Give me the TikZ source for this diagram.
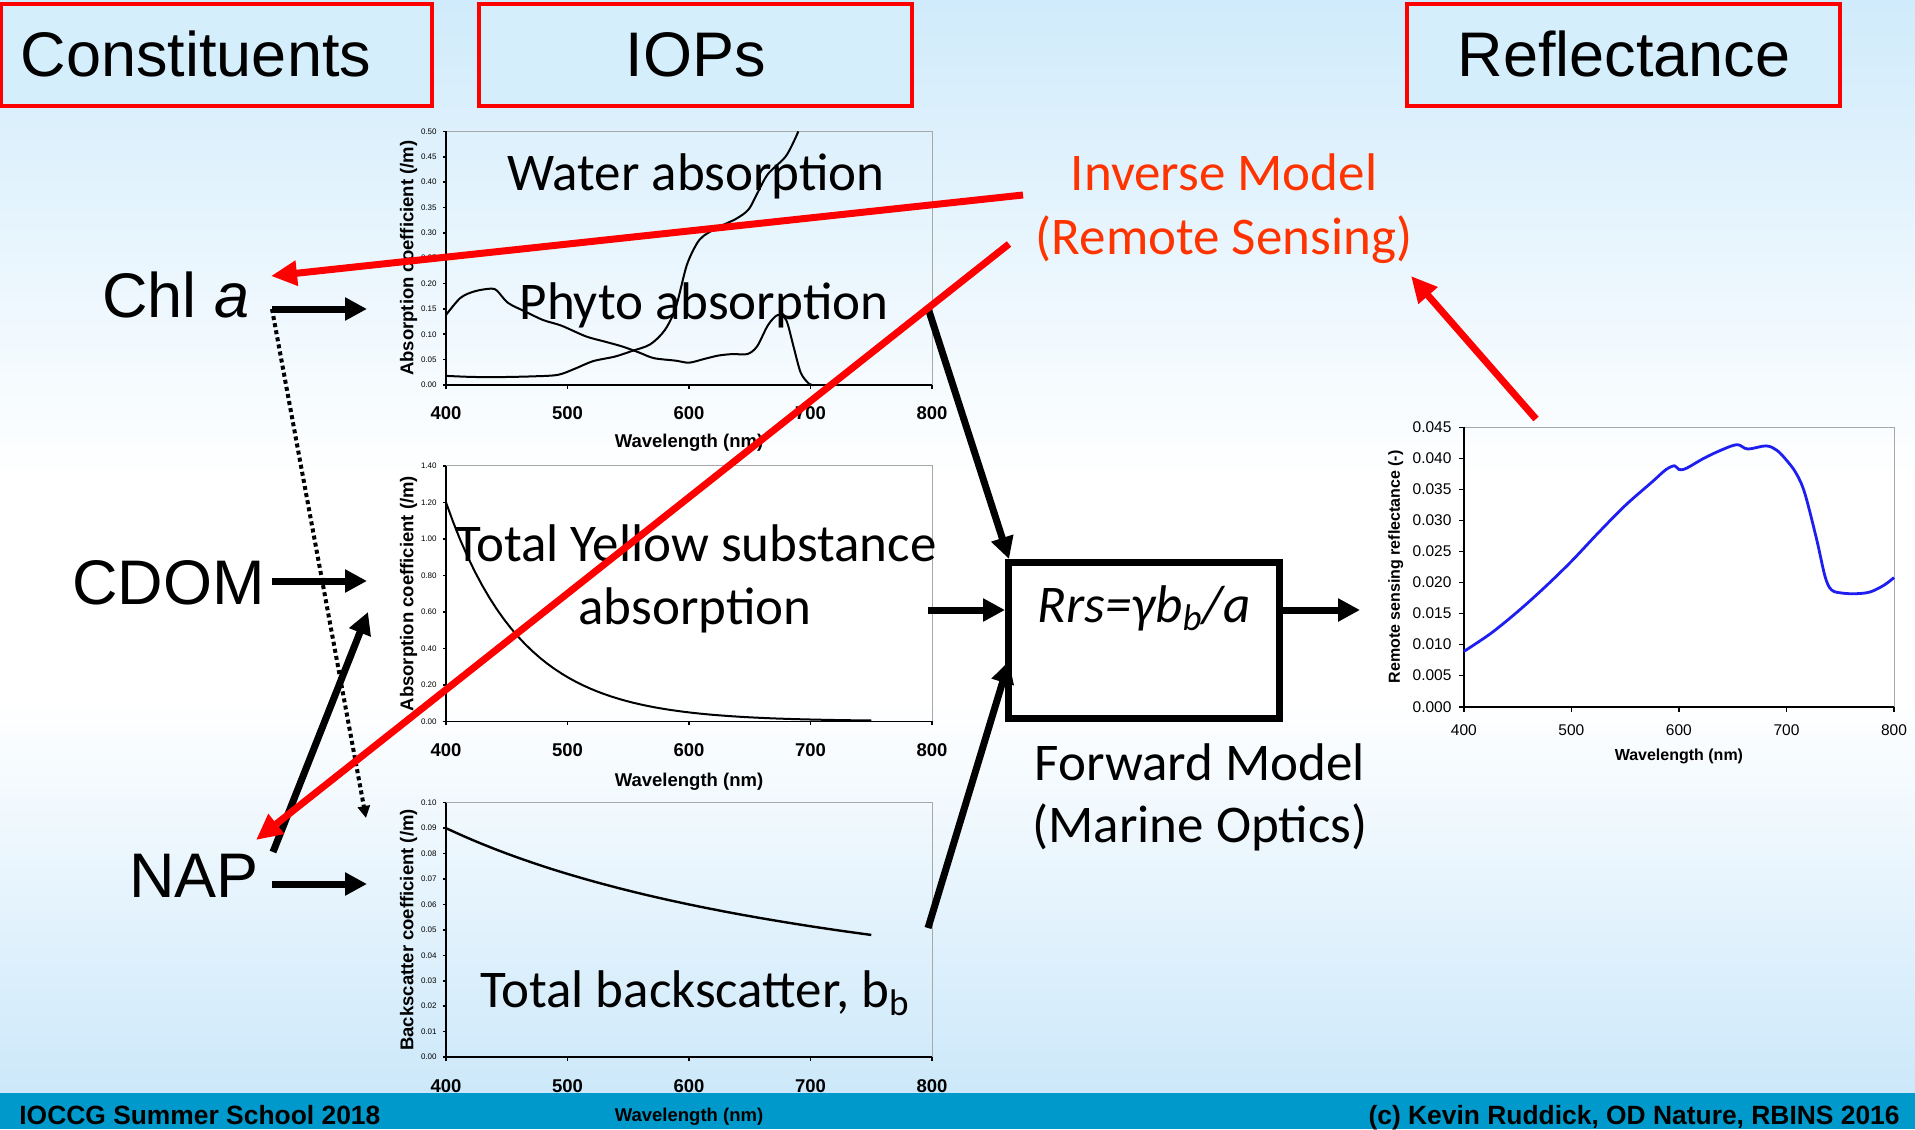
\documentclass[tikz,border=0pt]{standalone}
\usepackage{fontspec}
\setmainfont{Liberation Sans}
\newfontfamily\calibri{Carlito}
\usetikzlibrary{arrows.meta}

\definecolor{bgtop}{HTML}{D0EBFB}
\definecolor{bgbottom}{HTML}{CCE8FA}
\definecolor{hdrfill}{HTML}{D5EEFC}
\definecolor{barblue}{HTML}{0099CC}
\definecolor{labelred}{HTML}{FF3300}
\definecolor{curveblue}{HTML}{1E1EF0}
\definecolor{framegray}{HTML}{A8A8A8}

\tikzset{
  hdrbox/.style={draw=red, line width=1.75pt, fill=hdrfill},
  hdrtext/.style={font=\fontsize{31.5}{36}\selectfont, anchor=base, inner sep=0pt},
  constituent/.style={font=\fontsize{31.5}{36}\selectfont, anchor=base west, inner sep=0pt},
  iopname/.style={font=\calibri\fontsize{26.5}{30}\selectfont, anchor=base, inner sep=0pt},
  redname/.style={iopname, text=labelred},
  flow/.style={line width=3.5pt, -{Triangle[length=11pt,width=11pt]}},
  invflow/.style={draw=red, line width=3.5pt, -{Triangle[length=13pt,width=12pt]}},
  linkflow/.style={line width=2pt, dash pattern=on 2pt off 1.6pt, -{Triangle[length=6pt,width=6pt]}},
  axisline/.style={line width=0.8pt},
  frameline/.style={draw=framegray, line width=0.5pt},
  tinytick/.style={font=\fontsize{4}{5}\selectfont, anchor=east, inner sep=0pt},
  boldtick/.style={font=\bfseries\fontsize{9.25}{11}\selectfont, inner sep=0pt},
  curve/.style={line width=1pt, line join=round},
  rtick/.style={font=\fontsize{7.75}{9}\selectfont, inner sep=0pt},
  rlabel/.style={font=\bfseries\fontsize{8}{10}\selectfont, inner sep=0pt},
  bartext/.style={font=\bfseries\fontsize{13.2}{15}\selectfont, inner sep=0pt}
}

\begin{document}
\begin{tikzpicture}[x=0.5pt, y=-0.5pt]
\useasboundingbox (0,0) rectangle (1915,1129);
\clip (0,0) rectangle (1915,1129);

% background
\shade[top color=bgtop, bottom color=white] (0,0) rectangle (1915,480);
\fill[white] (0,479) rectangle (1915,700);
\shade[top color=white, bottom color=bgbottom] (0,699) rectangle (1915,1094);
\fill[barblue] (0,1093) rectangle (1915,1129);

% column headers
\draw[hdrbox] (1,4) rectangle (432,106);
\draw[hdrbox] (479,4) rectangle (912,106);
\draw[hdrbox] (1407,4) rectangle (1840,106);
\node[hdrtext] (hconst) at (196,77) {Constituents};
\node[hdrtext] (hiops) at (696,77) {IOPs};
\node[hdrtext] (hrefl) at (1624,77) {Reflectance};

% ---------- absorption chart: water and phytoplankton ----------
\begin{scope}[shift={(-20pt,-192.5pt)}, x=0.6075pt, y=253.6pt]
  \draw[frameline] (400,0.5) -- (800,0.5) -- (800,0);
  \foreach \v in {0.00,0.05,0.10,0.15,0.20,0.25,0.30,0.35,0.40,0.45,0.50}{
    \draw[axisline] (400,\v) -- ++(-1.6pt,0);
    \node[tinytick] at ([xshift=-4.5pt]400,\v) {\v};
  }
  \foreach \w in {400,500,600,700,800}{
    \draw[axisline] (\w,0) -- ++(0,-2pt);
    \node[boldtick] at ([yshift=-14pt]\w,0) {\w};
  }
  \draw[axisline] (400,0.5) -- (400,0) -- (800,0);
  \node[boldtick] at ([yshift=-29pt]600,0) {Wavelength (nm)};
  \node[boldtick, rotate=90] at ([xshift=-18.7pt]400,0.25) {Absorption coefficient (/m)};
  \draw[curve] plot[smooth, tension=0.5] coordinates {
    (400,0.018) (420,0.016) (441,0.0155) (471,0.017) (492,0.020) (506,0.032)
    (521,0.047) (539,0.056) (553,0.067) (568,0.080) (580,0.108) (589,0.152)
    (598,0.235) (606,0.277) (612,0.294) (624,0.311) (639,0.328) (649,0.346)
    (656,0.377) (665,0.416) (680,0.452) (690,0.50)};
  \draw[curve] plot[smooth, tension=0.5] coordinates {
    (400,0.138) (412,0.172) (424,0.185) (437,0.190) (442,0.186) (451,0.162)
    (465,0.145) (480,0.128) (495,0.117) (515,0.096) (530,0.086) (545,0.076)
    (559,0.064) (571,0.053) (589,0.048) (600,0.044) (612,0.051) (624,0.058)
    (636,0.061) (648,0.061) (656,0.076) (665,0.118) (673,0.138) (680,0.128)
    (686,0.076) (692,0.024) (699,0.002) (703,0)};
\end{scope}
\node[iopname] (water) at (696,190) {Water absorption};
\node[iopname] (phyto) at (704,319) {Phyto absorption};

% ---------- absorption chart: yellow substance ----------
\begin{scope}[shift={(-20pt,-360.65pt)}, x=0.6075pt, y=91.2pt]
  \draw[frameline] (400,1.4) -- (800,1.4) -- (800,0);
  \foreach \v in {0.00,0.20,0.40,0.60,0.80,1.00,1.20,1.40}{
    \draw[axisline] (400,\v) -- ++(-1.6pt,0);
    \node[tinytick] at ([xshift=-4.5pt]400,\v) {\v};
  }
  \foreach \w in {400,500,600,700,800}{
    \draw[axisline] (\w,0) -- ++(0,-2pt);
    \node[boldtick] at ([yshift=-14.5pt]\w,0) {\w};
  }
  \draw[axisline] (400,1.4) -- (400,0) -- (800,0);
  \node[boldtick] at ([yshift=-30pt]600,0) {Wavelength (nm)};
  \node[boldtick, rotate=90] at ([xshift=-18.7pt]400,0.7) {Absorption coefficient (/m)};
  \draw[curve] plot[domain=400:750, samples=60] (\x,{1.2*exp(-0.016*(\x-400))});
\end{scope}
\node[iopname] (cdomabs1) at (696,561) {Total Yellow substance};
\node[iopname] (cdomabs2) at (695,624) {absorption};

% ---------- backscatter chart ----------
\begin{scope}[shift={(-20pt,-528.5pt)}, x=0.6075pt, y=1271.5pt]
  \draw[frameline] (400,0.1) -- (800,0.1) -- (800,0);
  \foreach \v in {0.00,0.01,0.02,0.03,0.04,0.05,0.06,0.07,0.08,0.09,0.10}{
    \draw[axisline] (400,\v) -- ++(-1.6pt,0);
    \node[tinytick] at ([xshift=-4.5pt]400,\v) {\v};
  }
  \foreach \w in {400,500,600,700,800}{
    \draw[axisline] (\w,0) -- ++(0,-2pt);
    \node[boldtick] at ([yshift=-14.5pt]\w,0) {\w};
  }
  \draw[axisline] (400,0.1) -- (400,0) -- (800,0);
  \node[boldtick] at ([yshift=-30pt]600,0) {Wavelength (nm)};
  \node[boldtick, rotate=90] at ([xshift=-18.7pt]400,0.05) {Backscatter coefficient (/m)};
  \draw[curve, line width=1.2pt] plot[domain=400:750, samples=50] (\x,{36/\x});
\end{scope}
\node[iopname] (bback) at (695,1007) {Total backscatter, b\textsubscript{b}};

% ---------- reflectance chart ----------
\begin{scope}[shift={(516.8pt,-353.35pt)}, x=0.53775pt, y=3104.4pt]
  \draw[frameline] (400,0.045) -- (800,0.045) -- (800,0);
  \foreach \v in {0.000,0.005,0.010,0.015,0.020,0.025,0.030,0.035,0.040,0.045}{
    \draw[axisline] (400,\v) -- ++(-2.5pt,0);
    \node[rtick, anchor=east] at ([xshift=-6pt]400,\v) {\v};
  }
  \foreach \w in {400,500,600,700,800}{
    \draw[axisline] (\w,0) -- ++(0,-2.5pt);
    \node[rtick] at ([yshift=-11.5pt]\w,0) {\w};
  }
  \draw[axisline] (400,0.045) -- (400,0) -- (800,0);
  \node[rlabel] at ([yshift=-25pt]600,0) {Wavelength (nm)};
  \node[rlabel, rotate=90] at ([xshift=-34pt]400,0.0225) {Remote sensing reflectance (-)};
  \draw[curve, draw=curveblue, line width=1.4pt] plot[smooth, tension=0.55] coordinates {
    (400,0.0089) (425,0.0118) (450,0.0153) (475,0.0192) (500,0.0234)
    (525,0.0280) (550,0.0324) (575,0.0362) (588,0.0382)
    (596,0.0388) (600,0.0382) (607,0.0384) (623,0.0400) (639,0.0413)
    (654,0.0422) (664,0.0415) (681,0.0420)
    (691,0.0413) (700,0.0397) (709,0.0376) (717,0.0344) (728,0.0270)
    (736,0.0209) (742,0.0188) (752,0.0183) (765,0.0182) (778,0.0185)
    (791,0.0196) (800,0.0208)};
\end{scope}

% ---------- constituents ----------
\node[constituent] (chl) at (102,317) {Chl \textit{a}};
\node[constituent] (cdom) at (72,604) {CDOM};
\node[constituent] (nap) at (129,897) {NAP};

% ---------- forward model ----------
\node[draw, line width=3.5pt, minimum width=135.5pt, minimum height=78pt,
      inner sep=0pt] (model) at (1144,640.5) {};
\node[iopname] (eqn) at (1144,622) {\itshape Rrs=γb\textsubscript{b}/a};
\node[iopname] (fwd1) at (1200,780) {Forward Model};
\node[iopname] (fwd2) at (1200,842) {(Marine Optics)};

% ---------- inverse model ----------
\node[redname] (inv1) at (1224,190) {Inverse Model};
\node[redname] (inv2) at (1224,254) {(Remote Sensing)};

% connector end points
\coordinate (chlOut) at (272,309);
\coordinate (chlIn) at (367,309);
\coordinate (cdomOut) at (272,581);
\coordinate (cdomIn) at (367,581);
\coordinate (napOut) at (272,884);
\coordinate (napIn) at (367,884);
\coordinate (napUp) at (273,852);
\coordinate (cdomUp) at (368,612);
\coordinate (linkEnd) at (366,818);
\coordinate (absOut) at (928,308);
\coordinate (absIn) at (1009,559);
\coordinate (ysOut) at (928,610);
\coordinate (ysIn) at (1005,610);
\coordinate (bbOut) at (928,928);
\coordinate (bbIn) at (1009,661);
\coordinate (rrsOut) at (1283,610);
\coordinate (rrsIn) at (1360,610);
\coordinate (invStartA) at (1023,195);
\coordinate (chlTip) at (271,276);
\coordinate (invStartB) at (1009,244);
\coordinate (napTip) at (256,840);
\coordinate (rrsTail) at (1536,419);
\coordinate (invTip) at (1411,276);

% forward connectors
\draw[flow] (chlOut) -- (chlIn);
\draw[flow] (cdomOut) -- (cdomIn);
\draw[flow] (napOut) -- (napIn);
\draw[flow] (napUp) -- (cdomUp);
\draw[linkflow] (chlOut) -- (linkEnd);
\draw[flow] (absOut) -- (absIn);
\draw[flow] (ysOut) -- (ysIn);
\draw[flow] (bbOut) -- (bbIn);
\draw[flow] (rrsOut) -- (rrsIn);

% inverse connectors
\draw[invflow] (invStartA) -- (chlTip);
\draw[invflow] (invStartB) -- (napTip);
\draw[invflow] (rrsTail) -- (invTip);

% footer
\node[bartext, anchor=base west] (school) at (19,1124) {IOCCG Summer School 2018};
\node[bartext, anchor=base east] (credit) at (1900,1124) {(c) Kevin Ruddick, OD Nature, RBINS 2016};
\end{tikzpicture}
\end{document}
